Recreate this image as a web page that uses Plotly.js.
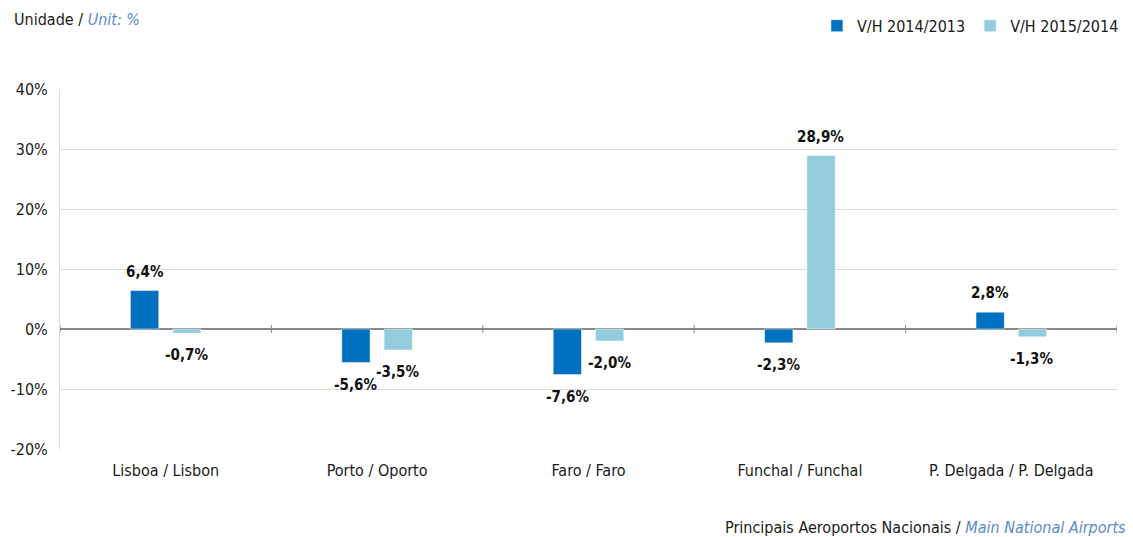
<!DOCTYPE html>
<html><head><meta charset="utf-8">
<script src="https://cdn.plot.ly/plotly-3.0.1.min.js"></script>
<style>body{margin:0;background:#fff}#c{width:1133px;height:537px}</style>
</head><body><div id="c"></div>
<script>
const categories = ["Lisboa / Lisbon", "Porto / Oporto", "Faro / Faro", "Funchal / Funchal", "P. Delgada / P. Delgada"];
const seriesNames = ["V/H 2014/2013", "V/H 2015/2014"];
const vh2014 = [6.4, -5.6, -7.6, -2.3, 2.8];
const vh2015 = [-0.7, -3.5, -2.0, 28.9, -1.3];
const yTicks = [-20, -10, 0, 10, 20, 30, 40];

const FONT = "DejaVu Sans Condensed, Roboto, sans-serif";
const colors = ["#0070C0", "#93CDDD"];
const fmt = v => v.toFixed(1).replace('.', ',') + '%';

const traces = [vh2014, vh2015].map((vals, i) => ({
  type: 'bar', name: seriesNames[i], x: categories, y: vals,
  marker: {color: colors[i], line: {color: '#ffffff', width: 0.5}},
  hoverinfo: 'skip'
}));

const annotations = [];
[vh2014, vh2015].forEach((vals, i) => {
  vals.forEach((v, j) => {
    annotations.push({
      x: categories[j], y: v, xref: 'x', yref: 'y', text: fmt(v), showarrow: false,
      xshift: i === 0 ? -21 : 21, yanchor: v >= 0 ? 'bottom' : 'top', yshift: v >= 0 ? 8 : -11,
      font: {family: FONT, size: 15, color: '#111', weight: 'bold'}
    });
  });
});
annotations.push({xref: 'paper', yref: 'paper', x: -0.0454, y: 1.194, xanchor: 'left', yanchor: 'middle', showarrow: false,
  text: "Unidade / <i><span style='color:#5a8ad0'>Unit: %</span></i>", font: {family: FONT, size: 16, color: '#1a1a1a'}});
annotations.push({xref: 'paper', yref: 'paper', x: 1.0104, y: -0.219, xanchor: 'right', yanchor: 'middle', showarrow: false,
  text: "Principais Aeroportos Nacionais / <i><span style='color:#5a8ad0'>Main National Airports</span></i>", font: {family: FONT, size: 16, color: '#1a1a1a'}});

const shapes = [];
for (let k = 0; k <= categories.length; k++) {
  shapes.push({type: 'line', xref: 'x', yref: 'y', x0: k - 0.5, x1: k - 0.5, ysizemode: 'pixel', yanchor: 0, y0: -4, y1: 4,
    line: {color: '#888', width: 1}});
}

const layout = {
  width: 1133, height: 537, paper_bgcolor: '#fff', plot_bgcolor: '#fff',
  margin: {l: 60, r: 16, t: 89, b: 88},
  barmode: 'group', bargap: 0.6, bargroupgap: 0.33,
  font: {family: FONT, size: 16, color: '#1a1a1a'},
  showlegend: true,
  legend: {orientation: 'h', xref: 'container', yref: 'container', x: 0.992, xanchor: 'right', y: 0.952, yanchor: 'middle',
    font: {family: FONT, size: 16, color: '#1a1a1a'}, itemwidth: 30, traceorder: 'normal', tracegroupgap: 0},
  xaxis: {type: 'category', showgrid: false, zeroline: false, showline: false, ticks: '', tickfont: {size: 16}, range: [-0.5, 4.5],
    ticklabelstandoff: 10},
  yaxis: {range: [-20, 40], tickvals: yTicks, ticktext: yTicks.map(v => v + '%'), showgrid: true, gridcolor: '#d9dbe4', gridwidth: 1,
    zeroline: true, zerolinecolor: '#888', zerolinewidth: 1.5, showline: true, linecolor: '#d9dbe4', linewidth: 1, ticks: '', tickfont: {size: 16},
    ticklabelstandoff: 8},
  annotations: annotations, shapes: shapes
};
Plotly.newPlot('c', traces, layout, {displayModeBar: false, staticPlot: true});
</script></body></html>
